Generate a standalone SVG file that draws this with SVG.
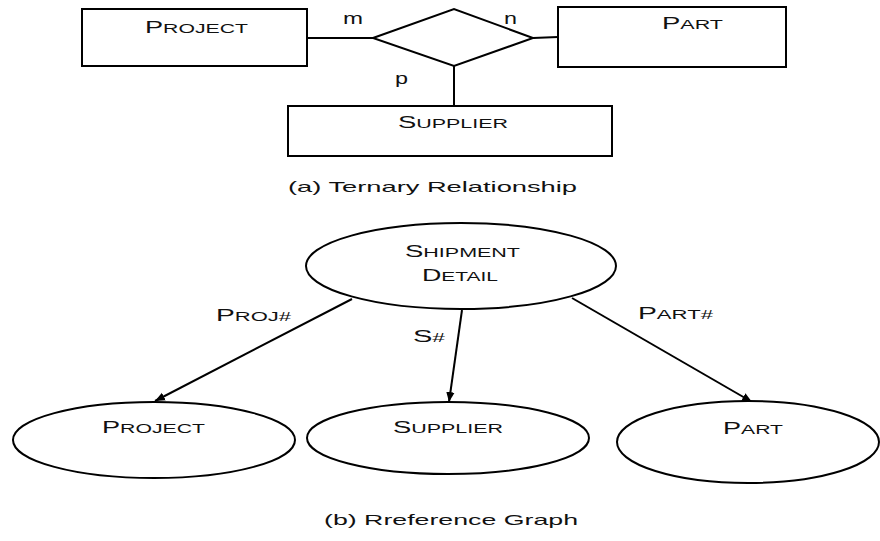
<svg xmlns="http://www.w3.org/2000/svg" width="880" height="541" viewBox="0 0 880 541">
  <style>
    .shape { fill: #ffffff; stroke: #000000; stroke-width: 2; }
    .line { fill: none; stroke: #000000; stroke-width: 2; }
    text { font-family: "Liberation Sans", Arial, sans-serif; fill: #111111; }
    .lbl { font-size: 12.5px; }
    .big { font-size: 16px; }
    .card { font-size: 16px; }
    .cap { font-size: 15px; }
  </style>
  <defs>
    <marker id="arrow" viewBox="0 0 10 10" refX="10" refY="5" markerWidth="10" markerHeight="10" markerUnits="userSpaceOnUse" orient="auto">
      <path d="M0,0.8 L10,5 L0,9.2 z" fill="#000000"/>
    </marker>
  </defs>

  <rect width="880" height="541" fill="#ffffff"/>

  <!-- (a) ternary relationship -->
  <g id="connectors-a">
    <line class="line" x1="307" y1="38" x2="373" y2="38"/>
    <line class="line" x1="533" y1="38" x2="558" y2="37"/>
    <line class="line" x1="454" y1="66" x2="454" y2="106"/>
    <text class="card" x="343" y="24" textLength="20" lengthAdjust="spacingAndGlyphs">m</text>
    <text class="card" x="504" y="24" textLength="13" lengthAdjust="spacingAndGlyphs">n</text>
    <text class="card" x="395" y="84" textLength="13" lengthAdjust="spacingAndGlyphs">p</text>
  </g>

  <g id="rect-project">
    <rect class="shape" x="82" y="9" width="225" height="57"/>
    <text class="lbl" x="145" y="33" textLength="103" lengthAdjust="spacingAndGlyphs"><tspan class="big">P</tspan>ROJECT</text>
  </g>

  <g id="relationship">
    <polygon class="shape" points="373,38 454,9 533,38 454,66"/>
  </g>

  <g id="rect-part">
    <rect class="shape" x="558" y="7" width="228" height="60"/>
    <text class="lbl" x="662" y="29" textLength="61" lengthAdjust="spacingAndGlyphs"><tspan class="big">P</tspan>ART</text>
  </g>

  <g id="rect-supplier">
    <rect class="shape" x="288" y="106" width="324" height="50"/>
    <text class="lbl" x="398" y="128" textLength="110" lengthAdjust="spacingAndGlyphs"><tspan class="big">S</tspan>UPPLIER</text>
  </g>

  <text class="cap" x="288" y="192" textLength="289" lengthAdjust="spacingAndGlyphs">(a) Ternary Relationship</text>

  <!-- (b) reference graph -->
  <g id="connectors-b">
    <line class="line" x1="352" y1="299" x2="155" y2="401" marker-end="url(#arrow)"/>
    <line class="line" x1="462" y1="310" x2="449" y2="402" marker-end="url(#arrow)"/>
    <line class="line" x1="572" y1="298" x2="752" y2="402" marker-end="url(#arrow)"/>
    <text class="lbl" x="216" y="321" textLength="75" lengthAdjust="spacingAndGlyphs"><tspan class="big">P</tspan>ROJ#</text>
    <text class="lbl" x="413" y="342" textLength="32" lengthAdjust="spacingAndGlyphs"><tspan class="big">S</tspan>#</text>
    <text class="lbl" x="638" y="319" textLength="75" lengthAdjust="spacingAndGlyphs"><tspan class="big">P</tspan>ART#</text>
  </g>

  <g id="node-shipment-detail">
    <ellipse class="shape" cx="461" cy="266" rx="155" ry="43"/>
    <text class="lbl" x="405" y="257" textLength="115" lengthAdjust="spacingAndGlyphs"><tspan class="big">S</tspan>HIPMENT</text>
    <text class="lbl" x="422" y="281" textLength="76" lengthAdjust="spacingAndGlyphs"><tspan class="big">D</tspan>ETAIL</text>
  </g>

  <g id="node-project">
    <ellipse class="shape" cx="154" cy="440" rx="141" ry="38"/>
    <text class="lbl" x="102" y="433" textLength="103" lengthAdjust="spacingAndGlyphs"><tspan class="big">P</tspan>ROJECT</text>
  </g>

  <g id="node-supplier">
    <ellipse class="shape" cx="448" cy="438" rx="141" ry="36"/>
    <text class="lbl" x="393" y="433" textLength="110" lengthAdjust="spacingAndGlyphs"><tspan class="big">S</tspan>UPPLIER</text>
  </g>

  <g id="node-part">
    <ellipse class="shape" cx="748" cy="442" rx="131" ry="41"/>
    <text class="lbl" x="723" y="434" textLength="60" lengthAdjust="spacingAndGlyphs"><tspan class="big">P</tspan>ART</text>
  </g>

  <text class="cap" x="324" y="525" textLength="254" lengthAdjust="spacingAndGlyphs">(b) Rreference Graph</text>
</svg>
